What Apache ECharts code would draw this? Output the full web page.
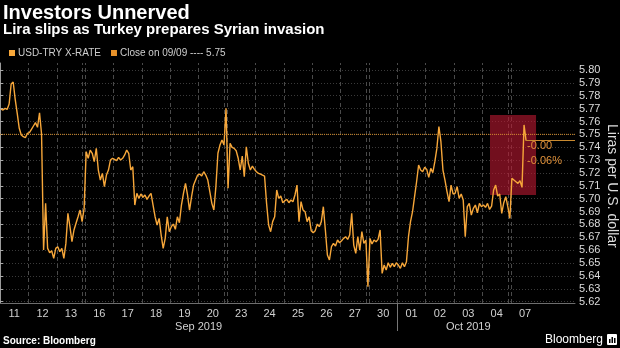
<!DOCTYPE html>
<html>
<head>
<meta charset="utf-8">
<script src="https://cdn.jsdelivr.net/npm/echarts@6/dist/echarts.min.js"></script>
<style>
  html, body { margin: 0; padding: 0; background: #000; }
  #chart { width: 620px; height: 348px; }
</style>
</head>
<body>
<div id="chart"></div>
<script>
// Trading sessions shown on the axis (weekends are collapsed)
const sessions = ['2019-09-11','2019-09-12','2019-09-13','2019-09-16','2019-09-17','2019-09-18',
  '2019-09-19','2019-09-20','2019-09-23','2019-09-24','2019-09-25','2019-09-26','2019-09-27',
  '2019-09-30','2019-10-01','2019-10-02','2019-10-03','2019-10-04','2019-10-07'];
const dayLabels = ['11','12','13','16','17','18','19','20','23','24','25','26','27','30','01','02','03','04','07'];
const monthLabels = { '2019-09': 'Sep 2019', '2019-10': 'Oct 2019' };

// USD-TRY intraday quotes, evenly spaced through each session
const sep11 = [5.7697,5.7689,5.7702,5.7694,5.7736,5.7891,5.7907,5.7772,5.7663,5.7547,5.7495,5.7482,5.7474,5.7508];
const sep12 = [5.7513,5.7539,5.7565,5.7591,5.7555,5.7668,5.7503,5.6601,5.6964,5.6614,5.6581,5.6596,5.6537,5.6614];
const sep13 = [5.6627,5.6588,5.6614,5.6537,5.6653,5.6886,5.6783,5.6666,5.6757,5.6809,5.6860,5.6912,5.6822,5.6925];
const sep16 = [5.7366,5.7314,5.7378,5.7353,5.7288,5.7391,5.7223,5.7145,5.7197,5.7094,5.7184,5.7223,5.7301,5.7314];
const sep17 = [5.7306,5.7296,5.7321,5.7301,5.7314,5.7340,5.7378,5.7353,5.7223,5.7249,5.6951,5.7042,5.7003,5.7037];
const sep18 = [5.7011,5.7029,5.6995,5.7021,5.7042,5.6951,5.6860,5.6796,5.6847,5.6718,5.6614,5.6692,5.6860,5.6744];
const sep19 = [5.6783,5.6803,5.6762,5.6860,5.6814,5.6951,5.7042,5.7119,5.7029,5.6912,5.7016,5.7106,5.7145,5.7184];
const sep20 = [5.7192,5.7176,5.7210,5.7184,5.7145,5.7055,5.6964,5.6912,5.7094,5.7353,5.7417,5.7456,5.7417,5.7702];
const sep23 = [5.7081,5.7430,5.7399,5.7391,5.7373,5.7314,5.7223,5.7332,5.7171,5.7404,5.7275,5.7223,5.7254,5.7228];
const sep24 = [5.7210,5.7197,5.7192,5.7184,5.7176,5.6964,5.6796,5.6744,5.6822,5.6860,5.7068,5.7003,5.7021,5.6969];
const sep25 = [5.6985,5.6995,5.6969,5.6990,5.6977,5.7029,5.7106,5.6822,5.6977,5.6912,5.6899,5.6822,5.6860,5.6752];
const sep26 = [5.6736,5.6752,5.6803,5.6783,5.6822,5.6938,5.6757,5.6563,5.6524,5.6627,5.6653,5.6632,5.6679,5.6658];
const sep27 = [5.6674,5.6692,5.6705,5.6684,5.6718,5.6886,5.6640,5.6575,5.6705,5.6601,5.6744,5.6653,5.6679,5.6317];
const sep30 = [5.6692,5.6648,5.6679,5.6666,5.6684,5.6757,5.6420,5.6485,5.6446,5.6503,5.6467,5.6498,5.6472,5.6503];
const oct01 = [5.6485,5.6459,5.6503,5.6472,5.6511,5.6705,5.6822,5.6899,5.7016,5.7132,5.7262,5.7223,5.7210,5.7244];
const oct02 = [5.7228,5.7166,5.7236,5.7202,5.7288,5.7391,5.7560,5.7443,5.7223,5.7145,5.7055,5.6977,5.7106,5.7037];
const oct03 = [5.7042,5.7094,5.7003,5.7037,5.6990,5.6705,5.6938,5.6964,5.6873,5.6925,5.6951,5.6891,5.6964,5.6938];
const oct04 = [5.6951,5.6933,5.6964,5.6917,5.6943,5.7068,5.7106,5.7021,5.7037,5.6886,5.6969,5.7016,5.6938,5.6847];
const oct07 = [5.7158,5.7145,5.7132,5.7119,5.7140,5.7088,5.7573,5.7451];
const usdTry = [sep11, sep12, sep13, sep16, sep17, sep18, sep19, sep20, sep23, sep24, sep25,
  sep26, sep27, sep30, oct01, oct02, oct03, oct04, oct07];

const previousClose = 5.75;
const closeLabel = 'Close on 09/09 ---- 5.75';
const changeText = ['-0.00', '-0.06%'];
const priceTicks = [5.62,5.63,5.64,5.65,5.66,5.67,5.68,5.69,5.70,5.71,5.72,5.73,5.74,5.75,5.76,5.77,5.78,5.79,5.80];
// Highlighted window: sessions (x) and price (y) range
const highlightX = [17.265, 18.887];
const highlightY = [5.7029, 5.765];

// ---- layout -------------------------------------------------------------
const QUOTES_PER_SESSION = 14;
const X_MAX = 20.26;   // axis leaves room to the right of the latest session
const LINE = '#f7a73a';
const CLOSE_LINE = '#d08a2a';
const FONT = '"Liberation Sans", Arial, sans-serif';

const priceData = [];
usdTry.forEach((day, d) => day.forEach((v, i) => priceData.push([d + (i + 0.5) / QUOTES_PER_SESSION, v])));
const lastPoint = priceData[priceData.length - 1];

// session boundaries; a weekend gets a second line
const boundaries = [];
for (let d = 1; d < sessions.length; d++) {
  boundaries.push(d);
  const gap = (Date.parse(sessions[d]) - Date.parse(sessions[d - 1])) / 864e5;
  if (gap > 1) boundaries.push(d - 0.09);
}
const dayCenters = dayLabels.map((_, d) => d + 0.5);

// months: centre label and separator at the first session of each later month
const monthCenters = [], monthStarts = [], monthNameAt = {};
let start = 0;
for (let d = 1; d <= sessions.length; d++) {
  if (d === sessions.length || sessions[d].slice(0, 7) !== sessions[start].slice(0, 7)) {
    const c = (start + d) / 2;
    monthCenters.push(c);
    monthNameAt[c] = monthLabels[sessions[start].slice(0, 7)];
    if (d < sessions.length) monthStarts.push(d);
    start = d;
  }
}

const chart = echarts.init(document.getElementById('chart'), null, { renderer: 'canvas' });
chart.setOption({
  backgroundColor: '#000',
  animation: false,
  textStyle: { fontFamily: FONT },
  legend: {
    left: 9, top: 48, padding: 0, icon: 'rect', itemWidth: 6, itemHeight: 6, itemGap: 10,
    textStyle: { color: '#cfcfcf', fontSize: 10, fontFamily: FONT, padding: [0, 0, 0, -2] },
    data: [{ name: 'USD-TRY X-RATE' }, { name: closeLabel }]
  },
  graphic: [
    { type: 'text', x: 3, y: 13, style: { text: 'Investors Unnerved', fill: '#fff', font: 'bold 20px ' + FONT, verticalAlign: 'middle' } },
    { type: 'text', x: 3, y: 30, style: { text: 'Lira slips as Turkey prepares Syrian invasion', fill: '#fff', font: 'bold 15px ' + FONT, verticalAlign: 'middle' } },
    { type: 'text', x: 3, y: 341, style: { text: 'Source: Bloomberg', fill: '#fff', font: 'bold 10px ' + FONT, verticalAlign: 'middle' } },
    { type: 'text', x: 603, y: 340, style: { text: 'Bloomberg', fill: '#fff', font: '12px ' + FONT, align: 'right', verticalAlign: 'middle' } },
    { type: 'rect', shape: { x: 607, y: 334, width: 10, height: 11, r: 1 }, style: { fill: '#fff' } },
    { type: 'rect', shape: { x: 609, y: 339, width: 1.5, height: 4 }, style: { fill: '#000' } },
    { type: 'rect', shape: { x: 611.5, y: 337, width: 1.5, height: 6 }, style: { fill: '#000' } },
    { type: 'rect', shape: { x: 614, y: 338, width: 1.5, height: 5 }, style: { fill: '#000' } }
  ],
  grid: [
    { left: 0, right: 45, top: 70, bottom: 46.3, containLabel: false, outerBoundsMode: 'none' },
    { left: 0, right: 45, top: 63, bottom: 45, containLabel: false, outerBoundsMode: 'none' }
  ],
  xAxis: [
    { gridIndex: 0, type: 'value', min: 0, max: X_MAX, show: false },
    {
      gridIndex: 1, type: 'value', min: 0, max: X_MAX, interval: 1, position: 'bottom',
      axisLine: { show: true, lineStyle: { color: '#6e6e6e', width: 1 } },
      splitLine: { show: false },
      axisTick: { show: true, inside: true, length: 240, customValues: boundaries,
        lineStyle: { color: '#4a4a4a', width: 1, type: [4, 3] } },
      axisLabel: { customValues: dayCenters, formatter: v => dayLabels[Math.floor(v)],
        color: '#d0d0d0', fontSize: 11, margin: 5, fontFamily: FONT }
    },
    {
      gridIndex: 1, type: 'value', min: 0, max: X_MAX, position: 'bottom',
      axisLine: { show: false }, splitLine: { show: false },
      axisTick: { show: true, customValues: monthStarts, length: 28, lineStyle: { color: '#777', width: 1 } },
      axisLabel: { customValues: monthCenters, formatter: v => monthNameAt[v] || '',
        color: '#d0d0d0', fontSize: 11, margin: 18, fontFamily: FONT }
    }
  ],
  yAxis: [
    {
      gridIndex: 0, type: 'value', position: 'right', min: 5.62, max: 5.80, interval: 0.01,
      name: 'Liras per U.S. dollar', nameLocation: 'middle', nameRotate: -90, nameGap: 30,
      nameMoveOverlap: false,
      nameTextStyle: { color: '#dcdcdc', fontSize: 14, fontFamily: FONT },
      axisLine: { show: false },
      axisTick: { show: true, length: 3, customValues: priceTicks, lineStyle: { color: '#aaa' } },
      axisLabel: { customValues: priceTicks, formatter: v => v.toFixed(2), color: '#dcdcdc', fontSize: 11, margin: 4, fontFamily: FONT },
      splitLine: { show: true, lineStyle: { color: '#3a3a3a', width: 1, type: [1, 2] } }
    },
    {
      gridIndex: 1, type: 'value', position: 'right', min: 0, max: 1,
      axisLine: { show: true, lineStyle: { color: '#9a9a9a', width: 1 } },
      axisTick: { show: false }, axisLabel: { show: false }, splitLine: { show: false }
    }
  ],
  series: [
    {
      name: 'USD-TRY X-RATE', type: 'line', xAxisIndex: 0, yAxisIndex: 0, z: 3,
      data: priceData, showSymbol: false, symbol: 'none',
      itemStyle: { color: LINE },
      lineStyle: { color: LINE, width: 1.4 },
      markLine: {
        silent: true, symbol: 'none', animation: false,
        lineStyle: { color: '#c98a30', width: 1, type: 'solid' },
        label: { show: false },
        data: [[{ coord: lastPoint }, { coord: [X_MAX, lastPoint[1]] }]]
      },
      markPoint: {
        silent: true, symbol: 'rect', symbolSize: 0, animation: false,
        label: { show: true, position: [1, -2], align: 'left', verticalAlign: 'top',
          formatter: changeText.join('\n'), color: '#e0913a', fontSize: 11, lineHeight: 15, fontFamily: FONT },
        data: [{ coord: lastPoint }]
      }
    },
    {
      name: closeLabel, type: 'line', xAxisIndex: 0, yAxisIndex: 0, z: 4,
      data: [[0, previousClose], [X_MAX, previousClose]], showSymbol: false, symbol: 'none',
      itemStyle: { color: '#e8922a' },
      lineStyle: { color: CLOSE_LINE, width: 1, type: [1, 1] },
      markArea: {
        silent: true, animation: false,
        itemStyle: { color: 'rgba(190, 25, 50, 0.6)' },
        data: [[{ coord: [highlightX[0], highlightY[1]] }, { coord: [highlightX[1], highlightY[0]] }]]
      }
    }
  ]
});
</script>
</body>
</html>
